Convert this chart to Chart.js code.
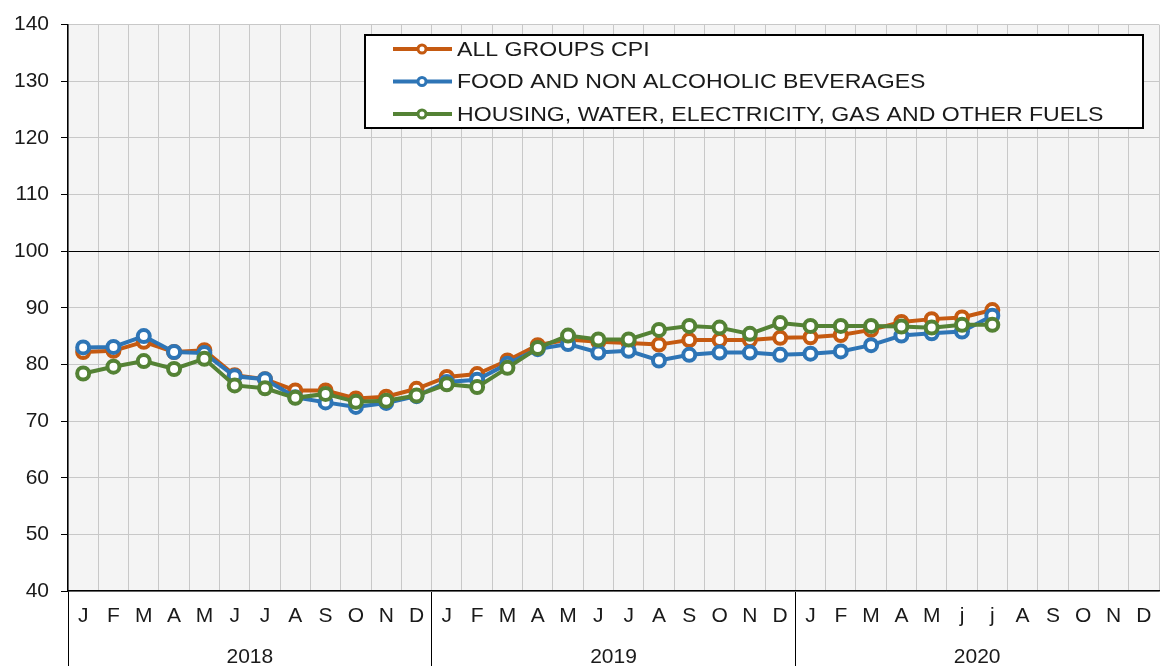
<!DOCTYPE html>
<html>
<head>
<meta charset="utf-8">
<script src="https://cdn.jsdelivr.net/npm/chart.js@4.4.1/dist/chart.umd.min.js"></script>
<style>
  html, body { margin: 0; padding: 0; background: #fff; }
</style>
</head>
<body>
<canvas id="cpiChart" width="1160" height="666"></canvas>
<script>
const months = [
  "J", "F", "M", "A", "M", "J", "J", "A", "S", "O", "N", "D",
  "J", "F", "M", "A", "M", "J", "J", "A", "S", "O", "N", "D",
  "J", "F", "M", "A", "M", "j", "j", "A", "S", "O", "N", "D"
];
const years = ["2018", "2019", "2020"];

const allGroupsCpi = [
  82.2, 82.4, 84.0, 82.2, 82.5, 78.1, 77.4, 75.4, 75.4, 74.0, 74.3, 75.7,
  77.8, 78.3, 80.7, 83.4, 84.4, 84.0, 83.8, 83.5, 84.3, 84.3, 84.3, 84.7,
  84.8, 85.2, 86.1, 87.5, 88.0, 88.3, 89.6, null, null, null, null, null
];
const foodBeverages = [
  83.0, 83.1, 85.0, 82.2, 82.0, 77.9, 77.4, 74.2, 73.3, 72.5, 73.2, 74.4,
  76.9, 77.3, 80.1, 82.7, 83.6, 82.1, 82.4, 80.7, 81.7, 82.1, 82.1, 81.7,
  81.9, 82.3, 83.4, 85.1, 85.5, 85.8, 88.6, null, null, null, null, null
];
const housingFuels = [
  78.4, 79.6, 80.6, 79.2, 81.0, 76.3, 75.8, 74.1, 74.8, 73.4, 73.6, 74.5,
  76.5, 76.0, 79.4, 82.9, 85.1, 84.4, 84.4, 86.1, 86.8, 86.5, 85.4, 87.3,
  86.8, 86.8, 86.8, 86.7, 86.5, 87.0, 87.0, null, null, null, null, null
];

const ORANGE = "#c55a11";
const BLUE = "#2e75b6";
const GREEN = "#548235";
const FONT = { family: "'Liberation Sans', Arial, sans-serif", size: 21 };
const TEXT = "#1a1a1a";

function series(label, values, color, order) {
  return {
    label: label,
    data: values,
    borderColor: color,
    backgroundColor: "#fff",
    borderWidth: 4,
    pointRadius: 6,
    pointBorderWidth: 4,
    pointBackgroundColor: "#fff",
    pointBorderColor: color,
    tension: 0,
    order: order
  };
}

// no extra side padding for the category axes
function noSidePadding(s) {
  s.paddingLeft = 0;
  s.paddingRight = 0;
}

// plot background + boxed legend like the spreadsheet original
const sheetLook = {
  id: "sheetLook",
  beforeDraw(chart) {
    const { ctx, chartArea } = chart;
    ctx.save();
    ctx.fillStyle = "#fff";
    ctx.fillRect(0, 0, chart.width, chart.height);
    ctx.fillStyle = "#f4f4f4";
    ctx.fillRect(chartArea.left, chartArea.top, chartArea.right - chartArea.left, chartArea.bottom - chartArea.top);
    ctx.restore();
  },
  afterDraw(chart) {
    const ctx = chart.ctx;
    const box = { x: 365, y: 35, w: 778, h: 93 };
    ctx.save();
    ctx.fillStyle = "#fff";
    ctx.fillRect(box.x, box.y, box.w, box.h);
    ctx.strokeStyle = "#000";
    ctx.lineWidth = 2;
    ctx.strokeRect(box.x, box.y, box.w, box.h);
    ctx.font = FONT.size + "px " + FONT.family;
    ctx.textBaseline = "middle";
    chart.data.datasets.forEach((ds, i) => {
      const y = box.y + 14 + i * 32.5;
      ctx.strokeStyle = ds.borderColor;
      ctx.lineWidth = 4;
      ctx.beginPath();
      ctx.moveTo(box.x + 28, y);
      ctx.lineTo(box.x + 87, y);
      ctx.stroke();
      ctx.beginPath();
      ctx.arc(box.x + 57, y, 4, 0, Math.PI * 2);
      ctx.fillStyle = "#fff";
      ctx.fill();
      ctx.lineWidth = 3;
      ctx.stroke();
      // the original text is a little wider than Liberation Sans
      ctx.save();
      ctx.translate(box.x + 92, y + 1);
      ctx.scale(1.1, 1);
      ctx.fillStyle = TEXT;
      ctx.fillText(ds.label, 0, 0);
      ctx.restore();
    });
    ctx.restore();
  }
};

const config = {
  type: "line",
  data: {
    labels: months,
    datasets: [
      series("ALL GROUPS CPI", allGroupsCpi, ORANGE, 3),
      series("FOOD AND NON ALCOHOLIC BEVERAGES", foodBeverages, BLUE, 2),
      series("HOUSING, WATER, ELECTRICITY, GAS AND OTHER FUELS", housingFuels, GREEN, 1)
    ]
  },
  options: {
    responsive: false,
    animation: false,
    devicePixelRatio: 1,
    layout: { autoPadding: false, padding: { top: 22, right: 1, left: 0, bottom: 0 } },
    plugins: {
      legend: { display: false },
      tooltip: { enabled: false }
    },
    scales: {
      x: {
        type: "category",
        offset: true,
        grid: {
          offset: true,
          color: "#c8c8c8",
          lineWidth: 1,
          tickLength: 75,
          tickColor: c => (c.index % 12 === 0 ? "#000" : "rgba(0,0,0,0)")
        },
        border: { color: "#000", width: 1.5 },
        ticks: { padding: -62, font: FONT, color: TEXT, maxRotation: 0, autoSkip: false },
        afterFit: s => { s.height = 36; noSidePadding(s); }
      },
      x2: {
        type: "category",
        labels: years,
        offset: true,
        position: "bottom",
        grid: { display: false, drawTicks: false },
        border: { display: false },
        ticks: { padding: 18, font: FONT, color: TEXT, maxRotation: 0 },
        afterFit: s => { s.height = 39; noSidePadding(s); }
      },
      y: {
        min: 40,
        max: 140,
        ticks: { stepSize: 10, padding: 12, font: FONT, color: TEXT },
        grid: {
          color: c => (c.tick && c.tick.value === 100 ? "#000" : "#c8c8c8"),
          tickColor: "#000",
          tickLength: 7
        },
        border: { color: "#000", width: 1.5 },
        afterFit: s => { s.width = 68; }
      }
    }
  },
  plugins: [sheetLook]
};

const ctx = document.getElementById("cpiChart");
let cpiChart = new Chart(ctx, config);
</script>
</body>
</html>
